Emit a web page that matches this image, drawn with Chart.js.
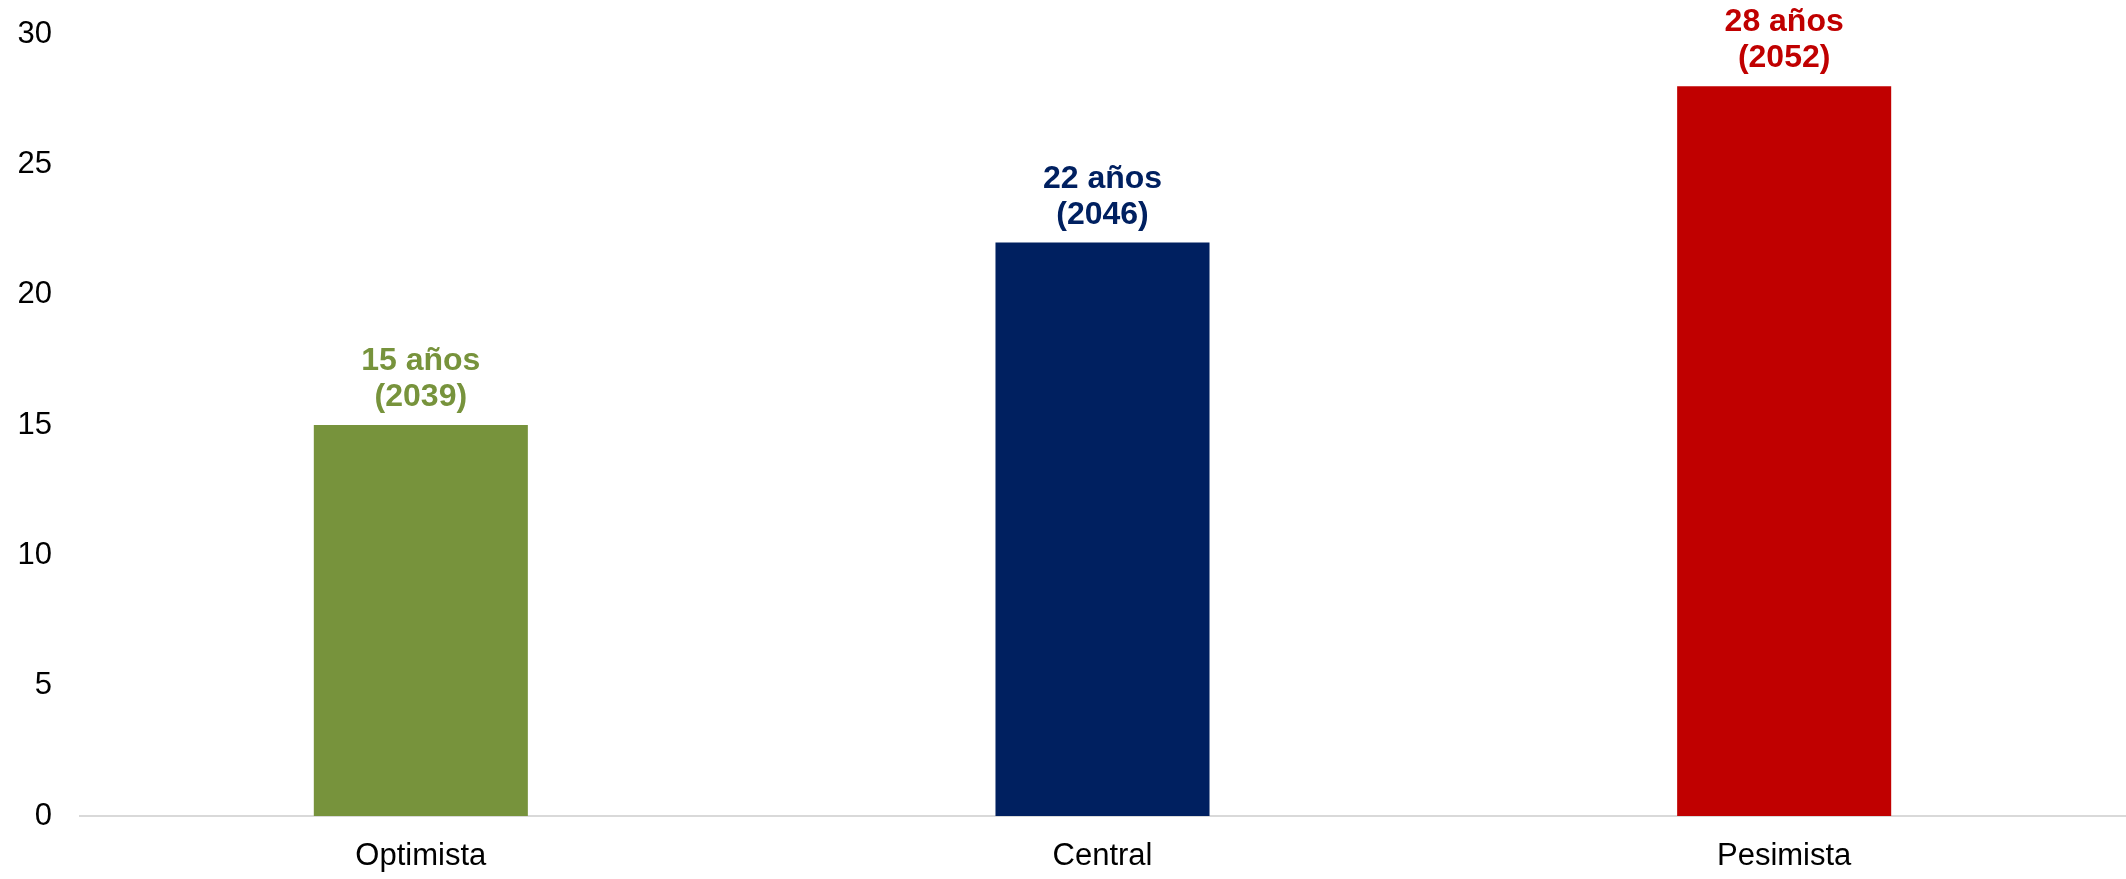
<!DOCTYPE html>
<html>
<head>
<meta charset="utf-8">
<script src="https://cdn.jsdelivr.net/npm/chart.js@4.4.1/dist/chart.umd.min.js"></script>
<style>
html,body{margin:0;padding:0;background:#fff;}
#wrap{width:2126px;height:879px;position:relative;}
</style>
</head>
<body>
<div id="wrap"><canvas id="c" width="2126" height="879"></canvas></div>
<script>
const categories = ["Optimista", "Central", "Pesimista"];
const values = [15, 22, 28];
const labelLine1 = ["15 años", "22 años", "28 años"];
const labelLine2 = ["(2039)", "(2046)", "(2052)"];
const barColors = ["#77933C", "#002060", "#C00000"];
const yTicks = [0, 5, 10, 15, 20, 25, 30];

const FONT = "'Liberation Sans', Arial, sans-serif";

const labelPlugin = {
  id: 'barLabels',
  afterDatasetsDraw(chart) {
    const ctx = chart.ctx;
    const meta = chart.getDatasetMeta(0);
    ctx.save();
    ctx.font = "bold 32px " + FONT;
    ctx.textAlign = 'center';
    ctx.textBaseline = 'alphabetic';
    meta.data.forEach((bar, i) => {
      ctx.fillStyle = barColors[i];
      ctx.fillText(labelLine2[i], bar.x, bar.y - 19);
      ctx.fillText(labelLine1[i], bar.x, bar.y - 55);
    });
    ctx.restore();
  }
};

new Chart(document.getElementById('c'), {
  type: 'bar',
  data: {
    labels: categories,
    datasets: [{
      data: values,
      backgroundColor: barColors,
      borderWidth: 0,
      barPercentage: 0.314,
      categoryPercentage: 1.0
    }]
  },
  options: {
    responsive: false,
    animation: false,
    devicePixelRatio: 1,
    layout: { padding: { top: 34, right: 1, left: 0, bottom: 0 } },
    plugins: { legend: { display: false }, tooltip: { enabled: false } },
    scales: {
      x: {
        grid: { display: false, drawTicks: false },
        border: { display: true, color: '#D9D9D9', width: 2 },
        ticks: { color: '#000', font: { family: FONT, size: 31 }, padding: 22 },
        afterFit(s) { s.height = 879 - 816; }
      },
      y: {
        min: 0, max: 30,
        afterBuildTicks(s) { s.ticks = yTicks.map(v => ({ value: v })); },
        grid: { display: false, drawTicks: false },
        border: { display: false },
        ticks: { color: '#000', font: { family: FONT, size: 31 }, padding: 28 },
        afterFit(s) { s.width = 80; s.paddingTop = 0; s.paddingBottom = 0; }
      }
    }
  },
  plugins: [labelPlugin]
});
</script>
</body>
</html>
